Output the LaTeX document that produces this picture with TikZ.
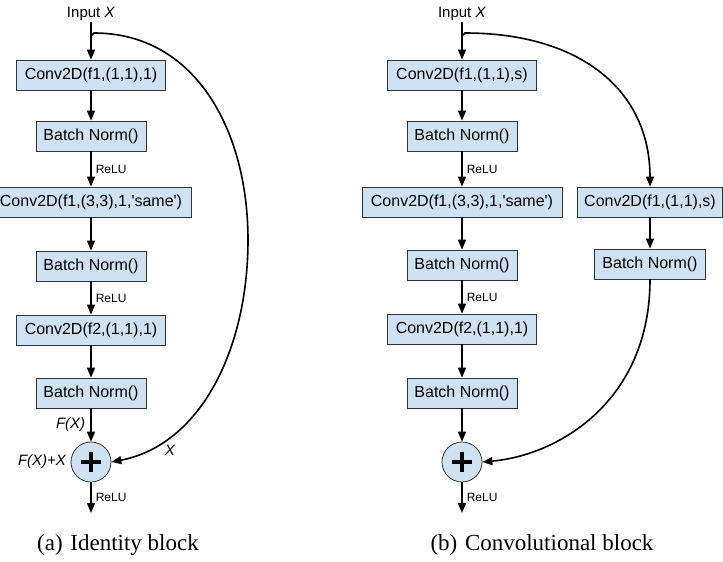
\documentclass[tikz,border=0pt]{standalone}
\usepackage{fontspec}
\setmainfont{Liberation Serif}
\setsansfont{Liberation Sans}
\usetikzlibrary{arrows.meta}
\definecolor{boxblue}{HTML}{CFE2F3}
\newcommand{\sq}{\textquotesingle}
\begin{document}
\begin{tikzpicture}[x=1pt,y=-1pt,
  box/.style={draw=black!80, fill=boxblue, line width=0.8pt, minimum height=30pt, inner sep=0pt,
    font=\sffamily\fontsize{16}{19}\selectfont},
  plusc/.style={circle, draw=black!80, fill=boxblue, line width=0.8pt, minimum size=40pt, inner sep=0pt},
  lbl/.style={font=\sffamily\fontsize{15}{18}\selectfont, inner sep=1pt},
  relu/.style={right, font=\sffamily\fontsize{12}{14}\selectfont, inner sep=4pt},
  arr/.style={-{Triangle[length=10pt,width=8pt]}, line width=1.6pt},
  captxt/.style={font=\rmfamily\fontsize{23}{27}\selectfont}
]
\useasboundingbox (0,0) rectangle (723,562);
\clip (0,0) rectangle (723,562);
% ---------------- (a) identity block
\node[lbl] (inA) at (91,14) {Input \textit{X}};
\coordinate (sA) at (91,36);
\node[box,minimum width=149pt] (a1) at (91,75) {Conv2D(f1,(1,1),1)};
\node[box,minimum width=110pt] (a2) at (91,136) {Batch Norm()};
\node[box,minimum width=200pt] (a3) at (91,202) {Conv2D(f1,(3,3),1,\sq same\sq)};
\node[box,minimum width=110pt] (a4) at (91,266) {Batch Norm()};
\node[box,minimum width=149pt] (a5) at (91,330) {Conv2D(f2,(1,1),1)};
\node[box,minimum width=110pt] (a6) at (91,393) {Batch Norm()};
\node[plusc] (aS) at (91,462) {};
\coordinate (aO) at (91,513);
\draw[line width=3.5pt] ([xshift=-10pt]aS.center) -- ([xshift=10pt]aS.center);
\draw[line width=3.5pt] ([yshift=-10pt]aS.center) -- ([yshift=10pt]aS.center);

\draw[arr] (inA.south) -- (a1.north);
\draw[arr] (a1) -- (a2);
\draw[arr] (a2) -- node[relu]{ReLU} (a3);
\draw[arr] (a3) -- (a4);
\draw[arr] (a4) -- node[relu]{ReLU} (a5);
\draw[arr] (a5) -- (a6);
\draw[arr] (a6) -- node[lbl,left,inner sep=5pt]{\textit{F(X)}} (aS);
\draw[arr] (aS) -- node[relu]{ReLU} (aO);
\node[lbl,left,inner sep=4pt] (fxx) at (aS.west) {\textit{F(X)+X}};
\node[lbl] (xl) at (170,450) {\textit{X}};
\draw[arr] (sA) -- ++(3,-3) .. controls (195,33) and (248,130) .. (248,240)
  .. controls (248,350) and (200,445) .. (aS.east);

% ---------------- (b) convolutional block
\node[lbl] (inB) at (462,14) {Input \textit{X}};
\coordinate (sB) at (462,36);
\node[box,minimum width=149pt] (b1) at (462,75) {Conv2D(f1,(1,1),s)};
\node[box,minimum width=110pt] (b2) at (462,136) {Batch Norm()};
\node[box,minimum width=200pt] (b3) at (462,202) {Conv2D(f1,(3,3),1,\sq same\sq)};
\node[box,minimum width=110pt] (b4) at (462,265) {Batch Norm()};
\node[box,minimum width=149pt] (b5) at (462,329) {Conv2D(f2,(1,1),1)};
\node[box,minimum width=110pt] (b6) at (462,393) {Batch Norm()};
\node[plusc] (bS) at (462,462) {};
\coordinate (bO) at (462,513);
\draw[line width=3.5pt] ([xshift=-10pt]bS.center) -- ([xshift=10pt]bS.center);
\draw[line width=3.5pt] ([yshift=-10pt]bS.center) -- ([yshift=10pt]bS.center);
\node[box,minimum width=145pt] (c1) at (650,202) {Conv2D(f1,(1,1),s)};
\node[box,minimum width=111pt] (c2) at (650,264) {Batch Norm()};

\draw[arr] (inB.south) -- (b1.north);
\draw[arr] (b1) -- (b2);
\draw[arr] (b2) -- node[relu]{ReLU} (b3);
\draw[arr] (b3) -- (b4);
\draw[arr] (b4) -- node[relu]{ReLU} (b5);
\draw[arr] (b5) -- (b6);
\draw[arr] (b6) -- (bS);
\draw[arr] (bS) -- node[relu]{ReLU} (bO);
\draw[arr] (c1) -- (c2);
\draw[arr] (sB) -- ++(3,-3) .. controls (580,33) and (650,90) .. (c1.north);
\draw[arr] (c2.south) .. controls (650,400) and (560,455) .. (bS.east);

\node[captxt] (capa) at (118,545) {(a)\,\,Identity block};
\node[captxt] (capb) at (542,545) {(b)\,\,Convolutional block};
\end{tikzpicture}
\end{document}
